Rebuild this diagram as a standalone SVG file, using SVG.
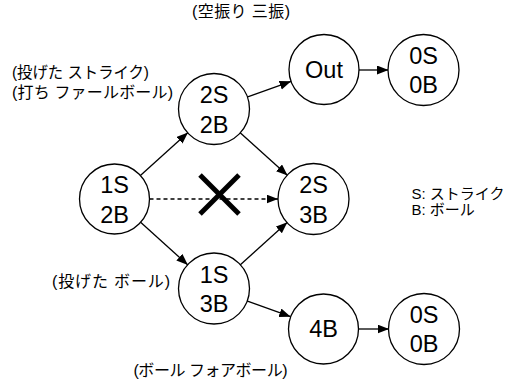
<svg xmlns="http://www.w3.org/2000/svg" width="507" height="380" viewBox="0 0 507 380">
<style>
  .node circle { fill: #ffffff; stroke: #000000; stroke-width: 1.3; }
  .node text { font-family: "Liberation Sans", "Noto Sans CJK JP", sans-serif; font-size: 23.5px; text-anchor: middle; fill: #000000; }
  .edge { stroke: #000000; stroke-width: 1.3; fill: none; marker-end: url(#arrow); }
  .dashed { stroke-dasharray: 4 3; }
  .label { font-family: "Liberation Sans", "Noto Sans CJK JP", sans-serif; font-size: 16px; fill: #000000; }
  .cross { stroke: #000000; stroke-width: 5; }
</style>
<defs>
  <marker id="arrow" markerUnits="userSpaceOnUse" markerWidth="12" markerHeight="10" refX="11.5" refY="4.5" orient="auto">
    <path d="M0,0 L11.5,4.5 L0,9 z" fill="#000000"/>
  </marker>
</defs>
<rect width="507" height="380" fill="#ffffff"/>

<g id="connectors">
  <line class="edge" x1="140.4" y1="175.5" x2="188" y2="132.5"/>
  <line class="edge" x1="140.6" y1="222.3" x2="187.9" y2="264.9"/>
  <line class="edge" x1="239.9" y1="132.5" x2="287.6" y2="175.5"/>
  <line class="edge" x1="240.1" y1="264.9" x2="287.4" y2="222.3"/>
  <line class="edge" x1="247" y1="97.2" x2="291.1" y2="81.3"/>
  <line class="edge" x1="359" y1="70" x2="388.5" y2="70"/>
  <line class="edge" x1="246.8" y1="300.8" x2="290.7" y2="316.7"/>
  <line class="edge" x1="358.5" y1="329" x2="389" y2="329"/>
  <line class="edge dashed" x1="149.5" y1="199" x2="278" y2="199"/>
</g>

<g id="cross">
  <line class="cross" x1="200" y1="175" x2="239" y2="214"/>
  <line class="cross" x1="239" y1="175" x2="200" y2="214"/>
</g>

<g id="n_1s2b" class="node">
  <circle cx="114.5" cy="199" r="35"/>
  <text><tspan x="114.5" y="193">1S</tspan><tspan x="114.5" y="222.5">2B</tspan></text>
</g>
<g id="n_2s2b" class="node">
  <circle cx="214" cy="109" r="35.5"/>
  <text><tspan x="214" y="103">2S</tspan><tspan x="214" y="132.5">2B</tspan></text>
</g>
<g id="n_2s3b" class="node">
  <circle cx="313.5" cy="199" r="35.5"/>
  <text><tspan x="313.5" y="193">2S</tspan><tspan x="313.5" y="222.5">3B</tspan></text>
</g>
<g id="n_1s3b" class="node">
  <circle cx="214" cy="288.5" r="35.5"/>
  <text><tspan x="214" y="282.5">1S</tspan><tspan x="214" y="312">3B</tspan></text>
</g>
<g id="n_out" class="node">
  <circle cx="324" cy="69.5" r="35"/>
  <text x="324" y="78">Out</text>
</g>
<g id="n_0s0b_top" class="node">
  <circle cx="423.5" cy="70" r="35.5"/>
  <text><tspan x="423.5" y="63.5">0S</tspan><tspan x="423.5" y="93">0B</tspan></text>
</g>
<g id="n_4b" class="node">
  <circle cx="323.5" cy="329" r="35"/>
  <text x="323.5" y="337">4B</text>
</g>
<g id="n_0s0b_bottom" class="node">
  <circle cx="424" cy="329" r="35.5"/>
  <text><tspan x="424" y="322.5">0S</tspan><tspan x="424" y="352">0B</tspan></text>
</g>

<g id="labels">
  <text class="label" x="192" y="16.5" textLength="98" lengthAdjust="spacing">(空振り 三振)</text>
  <text class="label" x="12" y="78" textLength="137" lengthAdjust="spacingAndGlyphs">(投げた ストライク)</text>
  <text class="label" x="12" y="98" textLength="161" lengthAdjust="spacing">(打ち ファールボール)</text>
  <text class="label" x="52" y="286.5" textLength="118" lengthAdjust="spacing">(投げた ボール)</text>
  <text class="label" x="133.5" y="375.5" textLength="154" lengthAdjust="spacing">(ボール フォアボール)</text>
  <text class="label" x="411.5" y="199" style="font-size:15px">S: ストライク</text>
  <text class="label" x="411.5" y="215" style="font-size:15px">B: ボール</text>
</g>
</svg>
